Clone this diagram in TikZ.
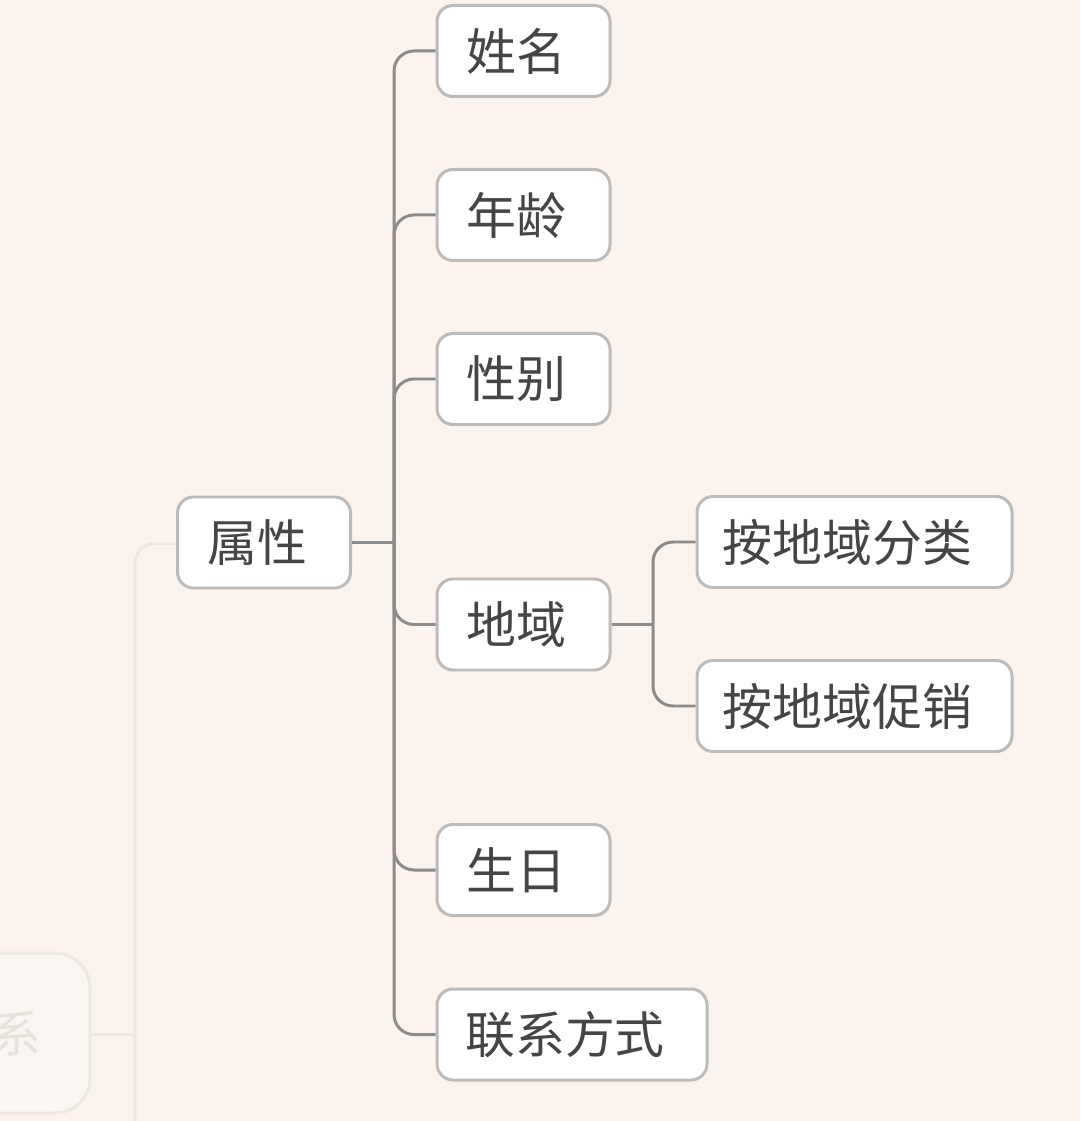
\documentclass[tikz,border=0pt]{standalone}
\usepackage{fontspec}
\setmainfont{Noto Sans CJK SC}
\usepackage{xcolor}
\usepackage{tikz}
\usetikzlibrary{positioning}

\definecolor{paper}{HTML}{FBF3EE}
\definecolor{boxline}{HTML}{BDBBBA}
\definecolor{linkline}{HTML}{8E8C8B}
\definecolor{inktext}{HTML}{454545}
\definecolor{ghostline}{HTML}{EEE7E2}
\definecolor{ghostfill}{HTML}{FAF6F2}
\definecolor{ghosttext}{HTML}{E8E1DC}

\tikzset{
  topic/.style={draw=boxline, line width=0.85pt, fill=white, rounded corners=0.16cm,
    minimum width=1.73cm, minimum height=0.91cm, inner sep=0pt,
    text=inktext, font=\fontsize{14.2pt}{15pt}\selectfont,
    execute at begin node={\kern-0.14cm}},
  widetopic/.style={topic, minimum width=3.15cm},
  link/.style={draw=linkline, line width=0.85pt, rounded corners=0.2cm},
  ghost/.style={draw=ghostline, line width=0.85pt, fill=ghostfill, rounded corners=0.35cm},
  ghostlink/.style={draw=ghostline, line width=0.85pt, rounded corners=0.2cm}
}

\begin{document}
\begin{tikzpicture}
			\fill[paper] (0, 0) rectangle (10.8, -11.21);
			\useasboundingbox (0, 0) rectangle (10.8, -11.21);

			% faded part of the map on the left
			\node[ghost, minimum width=1.8cm, minimum height=1.6cm] (xi) at (0, -10.33) {};
			\node[text=ghosttext, font=\fontsize{14.2pt}{15pt}\selectfont] (xitext) at (0.16, -10.33) {系};
			\coordinate (ghosttrunk) at (1.35, -10.345);
			\draw[ghostlink] (xi.east |- ghosttrunk) -- (ghosttrunk);
			\draw[ghostlink] (1.35, -11.4) -- (1.35, -5.435) -- (1.78, -5.435);

			% main topic
			\node[topic] (shuxing) at (2.64, -5.425) {属性};

			\node[topic] (xingming) at (5.235, -0.51) {姓名};
			\node[topic] (nianling) at (5.235, -2.15) {年龄};
			\node[topic] (xingbie) at (5.235, -3.79) {性别};
			\node[topic] (diyu) at (5.235, -6.245) {地域};
			\node[topic] (shengri) at (5.235, -8.70) {生日};
			\node[topic, minimum width=2.70cm] (lianxi) at (5.72, -10.345) {联系方式};

			\node[widetopic] (fenlei) at (8.545, -5.42) {按地域分类};
			\node[widetopic] (cuxiao) at (8.545, -7.06) {按地域促销};

			% connectors
			\coordinate (trunk) at (3.94, -5.425);
			\draw[link] (shuxing.east) -- (trunk);
			\foreach \child in {xingming, nianling, xingbie, diyu, shengri, lianxi}
				\draw[link] (trunk) |- (\child.west);

			\coordinate (subtrunk) at (6.53, -6.245);
			\draw[link] (diyu.east) -- (subtrunk);
			\draw[link] (subtrunk) |- (fenlei.west);
			\draw[link] (subtrunk) |- (cuxiao.west);
		\end{tikzpicture}
\end{document}
